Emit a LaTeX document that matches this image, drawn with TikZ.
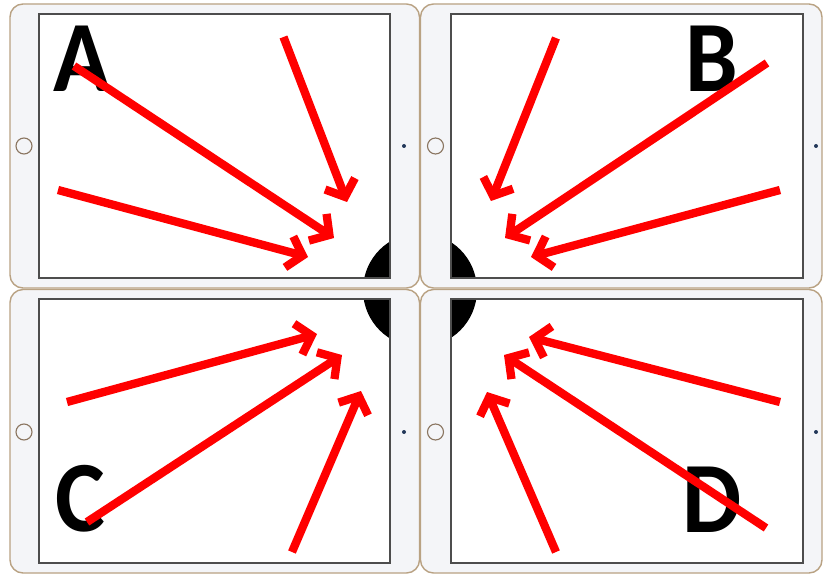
\documentclass[tikz,border=0pt]{standalone}
\usepackage{fontspec}
\newfontfamily\capsfont{Carlito}
\usetikzlibrary{arrows.meta}

\definecolor{bezel}{HTML}{F4F5F8}
\definecolor{goldrim}{HTML}{B9A283}
\definecolor{glass}{HTML}{4D4D4D}
\definecolor{btnrim}{HTML}{8A7560}
\definecolor{camdot}{HTML}{22385A}
\definecolor{arrowred}{HTML}{FF0000}

\tikzset{
  bezelfill/.style={fill=bezel, even odd rule},
  rim/.style={draw=goldrim, line width=1.4pt, rounded corners=13pt},
  screenedge/.style={draw=glass, line width=1.6pt},
  homebtn/.style={draw=btnrim, line width=1.1pt, fill=bezel},
  camera/.style={fill=camdot},
  tag/.style={font=\capsfont\bfseries\fontsize{101}{101}\selectfont, inner sep=0pt, anchor=base, xscale=0.93},
  pointer/.style={draw=arrowred, line width=8.3pt, line cap=butt,
    -{Straight Barb[length=14pt,width=32pt]}},
}

% one tablet: outer corners and screen corners
\newcommand\tablet[8]{%
  \fill[bezelfill] [rounded corners=13pt] (#1,#2) rectangle (#3,#4)
        [sharp corners] (#5,#6) rectangle (#7,#8);
  \draw[rim] (#1,#2) rectangle (#3,#4);
  \draw[screenedge] (#5,#6) rectangle (#7,#8);
}

\begin{document}
\begin{tikzpicture}[x=1pt,y=-1pt]
  \fill[white] (0,0) rectangle (823,575);
  \useasboundingbox (0,0) rectangle (823,575);

  % dark disc behind the meeting corners, seen only through the screens
  \begin{scope}
    \clip (39,14) rectangle (390,278) (451,14) rectangle (803,278)
          (39,299) rectangle (390,563) (451,299) rectangle (803,563);
    \fill[black] (420,290) circle (57pt);
  \end{scope}

  % four tablets
  \tablet{10}{4}{419.5}{288}{39}{14}{390}{278}
  \tablet{420.5}{4}{822}{288}{451}{14}{803}{278}
  \tablet{10}{289.5}{419.5}{573}{39}{299}{390}{563}
  \tablet{420.5}{289.5}{822}{573}{451}{299}{803}{563}

  % home buttons and cameras
  \foreach \hy in {146,432}{
    \draw[homebtn] (24,\hy) circle (8pt);
    \draw[homebtn] (435.5,\hy) circle (8pt);
    \fill[camera] (404,\hy) circle (2pt);
    \fill[camera] (816,\hy) circle (2pt);
  }

  % corner letters
  \node[tag] (lblA) at (81.5,92) {A};
  \node[tag] (lblB) at (712,92) {B};
  \node[tag] (lblC) at (80,531) {C};
  \node[tag] (lblD) at (712.5,532) {D};

  % arrow end points
  \coordinate (a1s) at (283.5,37);  \coordinate (a1t) at (347,202);
  \coordinate (a2s) at (74,66);     \coordinate (a2t) at (334,238);
  \coordinate (a3s) at (58,190);    \coordinate (a3t) at (308,257);
  \coordinate (b1s) at (556,38);    \coordinate (b1t) at (491,201);
  \coordinate (b2s) at (767,63);    \coordinate (b2t) at (505,238);
  \coordinate (b3s) at (780,190);   \coordinate (b3t) at (531,257);
  \coordinate (c1s) at (67,402);    \coordinate (c1t) at (317,334);
  \coordinate (c2s) at (87,522);    \coordinate (c2t) at (342,355);
  \coordinate (c3s) at (292,552);   \coordinate (c3t) at (361,391);
  \coordinate (d1s) at (780,402);   \coordinate (d1t) at (529,337);
  \coordinate (d2s) at (766,528);   \coordinate (d2t) at (504,355);
  \coordinate (d3s) at (556,552);   \coordinate (d3t) at (487,392);

  \foreach \g in {a,b,c,d}{
    \foreach \k in {1,2,3}{
      \draw[pointer] (\g\k s) -- (\g\k t);
    }
  }
\end{tikzpicture}
\end{document}
